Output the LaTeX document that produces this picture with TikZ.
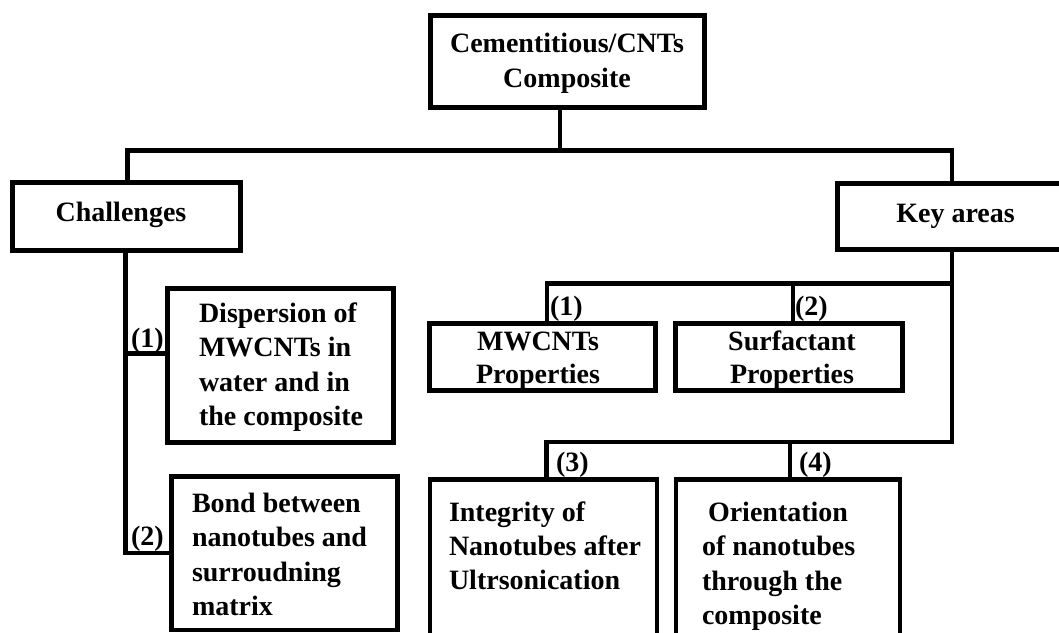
\documentclass[tikz,border=0pt]{standalone}
\usepackage{fontspec}
\setmainfont{Liberation Serif}
\tikzset{
  box/.style={draw, line width=4.7pt, inner sep=0pt, outer sep=0pt, anchor=north west},
  conn/.style={line width=4.7pt, line join=miter},
  txt/.style={inner sep=0pt, outer sep=0pt, font=\bfseries\fontsize{28}{34.5}\selectfont},
}
\begin{document}
\begin{tikzpicture}[x=1pt,y=-1pt]
\clip (0,0) rectangle (1059,632);
\fill[white] (0,0) rectangle (1059,632);
% boxes
\node[box, minimum width=274pt, minimum height=92pt] (top) at (430.5,15.5) {};
\node[box, minimum width=228pt, minimum height=68pt] (chal) at (12.5,182.5) {};
\node[box, minimum width=240pt, minimum height=66pt] (key) at (837.5,183.5) {};
\node[box, minimum width=226pt, minimum height=154pt] (disp) at (167.5,288.5) {};
\node[box, minimum width=226pt, minimum height=153.5pt] (bond) at (171.5,476.5) {};
\node[box, minimum width=226pt, minimum height=67pt] (mwc) at (429.5,323.5) {};
\node[box, minimum width=227pt, minimum height=67pt] (surf) at (675.5,323.5) {};
\node[box, minimum width=227pt, minimum height=170pt] (integ) at (430,479.5) {};
\node[box, minimum width=224pt, minimum height=170pt] (orient) at (676,479.5) {};
% texts
\node[txt, anchor=base] (top-t) at (567,52) {\fontsize{28}{35}\selectfont\parbox[t]{260pt}{\centering Cementitious/CNTs\\Composite}};
\node[txt, anchor=base] (chal-t) at (121,221) {Challenges};
\node[txt, anchor=base] (key-t) at (955.5,222) {Key areas};
\node[txt, anchor=base west] (disp-t) at (199,322) {\parbox[t]{200pt}{\raggedright Dispersion of\\MWCNTs in\\water and in\\the composite}};
\node[txt, anchor=base west] (bond-t) at (192,512) {\parbox[t]{205pt}{\raggedright Bond between\\nanotubes and\\surroudning\\matrix}};
\node[txt, anchor=base] (mwc-t) at (538,350.5) {\fontsize{28}{32.5}\selectfont\parbox[t]{210pt}{\centering MWCNTs\\Properties}};
\node[txt, anchor=base] (surf-t) at (792,350.5) {\fontsize{28}{32.5}\selectfont\parbox[t]{210pt}{\centering Surfactant\\Properties}};
\node[txt, anchor=base west] (integ-t) at (449,521) {\fontsize{28}{34}\selectfont\parbox[t]{205pt}{\raggedright Integrity of\\Nanotubes after\\Ultrsonication}};
\node[txt, anchor=base west] (orient-t) at (702,521) {\parbox[t]{195pt}{\raggedright \hspace*{6pt}Orientation\\of nanotubes\\through the\\composite}};
% connector labels
\node[txt, anchor=base west] (l1) at (131,347) {(1)};
\node[txt, anchor=base west] (l2) at (131,545) {(2)};
\node[txt, anchor=base west] (k1l) at (550,315) {(1)};
\node[txt, anchor=base west] (k2l) at (795,315) {(2)};
\node[txt, anchor=base west] (k3l) at (556,471) {(3)};
\node[txt, anchor=base west] (k4l) at (799,471) {(4)};
% junction coordinates
\coordinate (j0) at (560,150.5);
\coordinate (jl) at (127.5,150.5);
\coordinate (jr) at (952,150.5);
\coordinate (cl) at (125.5,553);
\coordinate (b1) at (125.5,353.7);
\coordinate (kr1) at (952,283.3);
\coordinate (k1) at (547,283.3);
\coordinate (k2) at (793,283.3);
\coordinate (kr2) at (952,442);
\coordinate (k3) at (546.5,442);
\coordinate (k4) at (790,442);
% connectors
\draw[conn] (top.south -| j0) -- (j0);
\draw[conn] (chal.north -| jl) -- (jl) -- (jr) -- (key.north -| jr);
\draw[conn] (chal.south -| cl) -- (cl) -- (bond.west |- cl);
\draw[conn] (b1) -- (disp.west |- b1);
\draw[conn] (key.south -| kr1) -- (kr2) -- (k3) -- (integ.north -| k3);
\draw[conn] (kr1) -- (k1) -- (mwc.north -| k1);
\draw[conn] (k2) -- (surf.north -| k2);
\draw[conn] (k4) -- (orient.north -| k4);
\end{tikzpicture}
\end{document}
